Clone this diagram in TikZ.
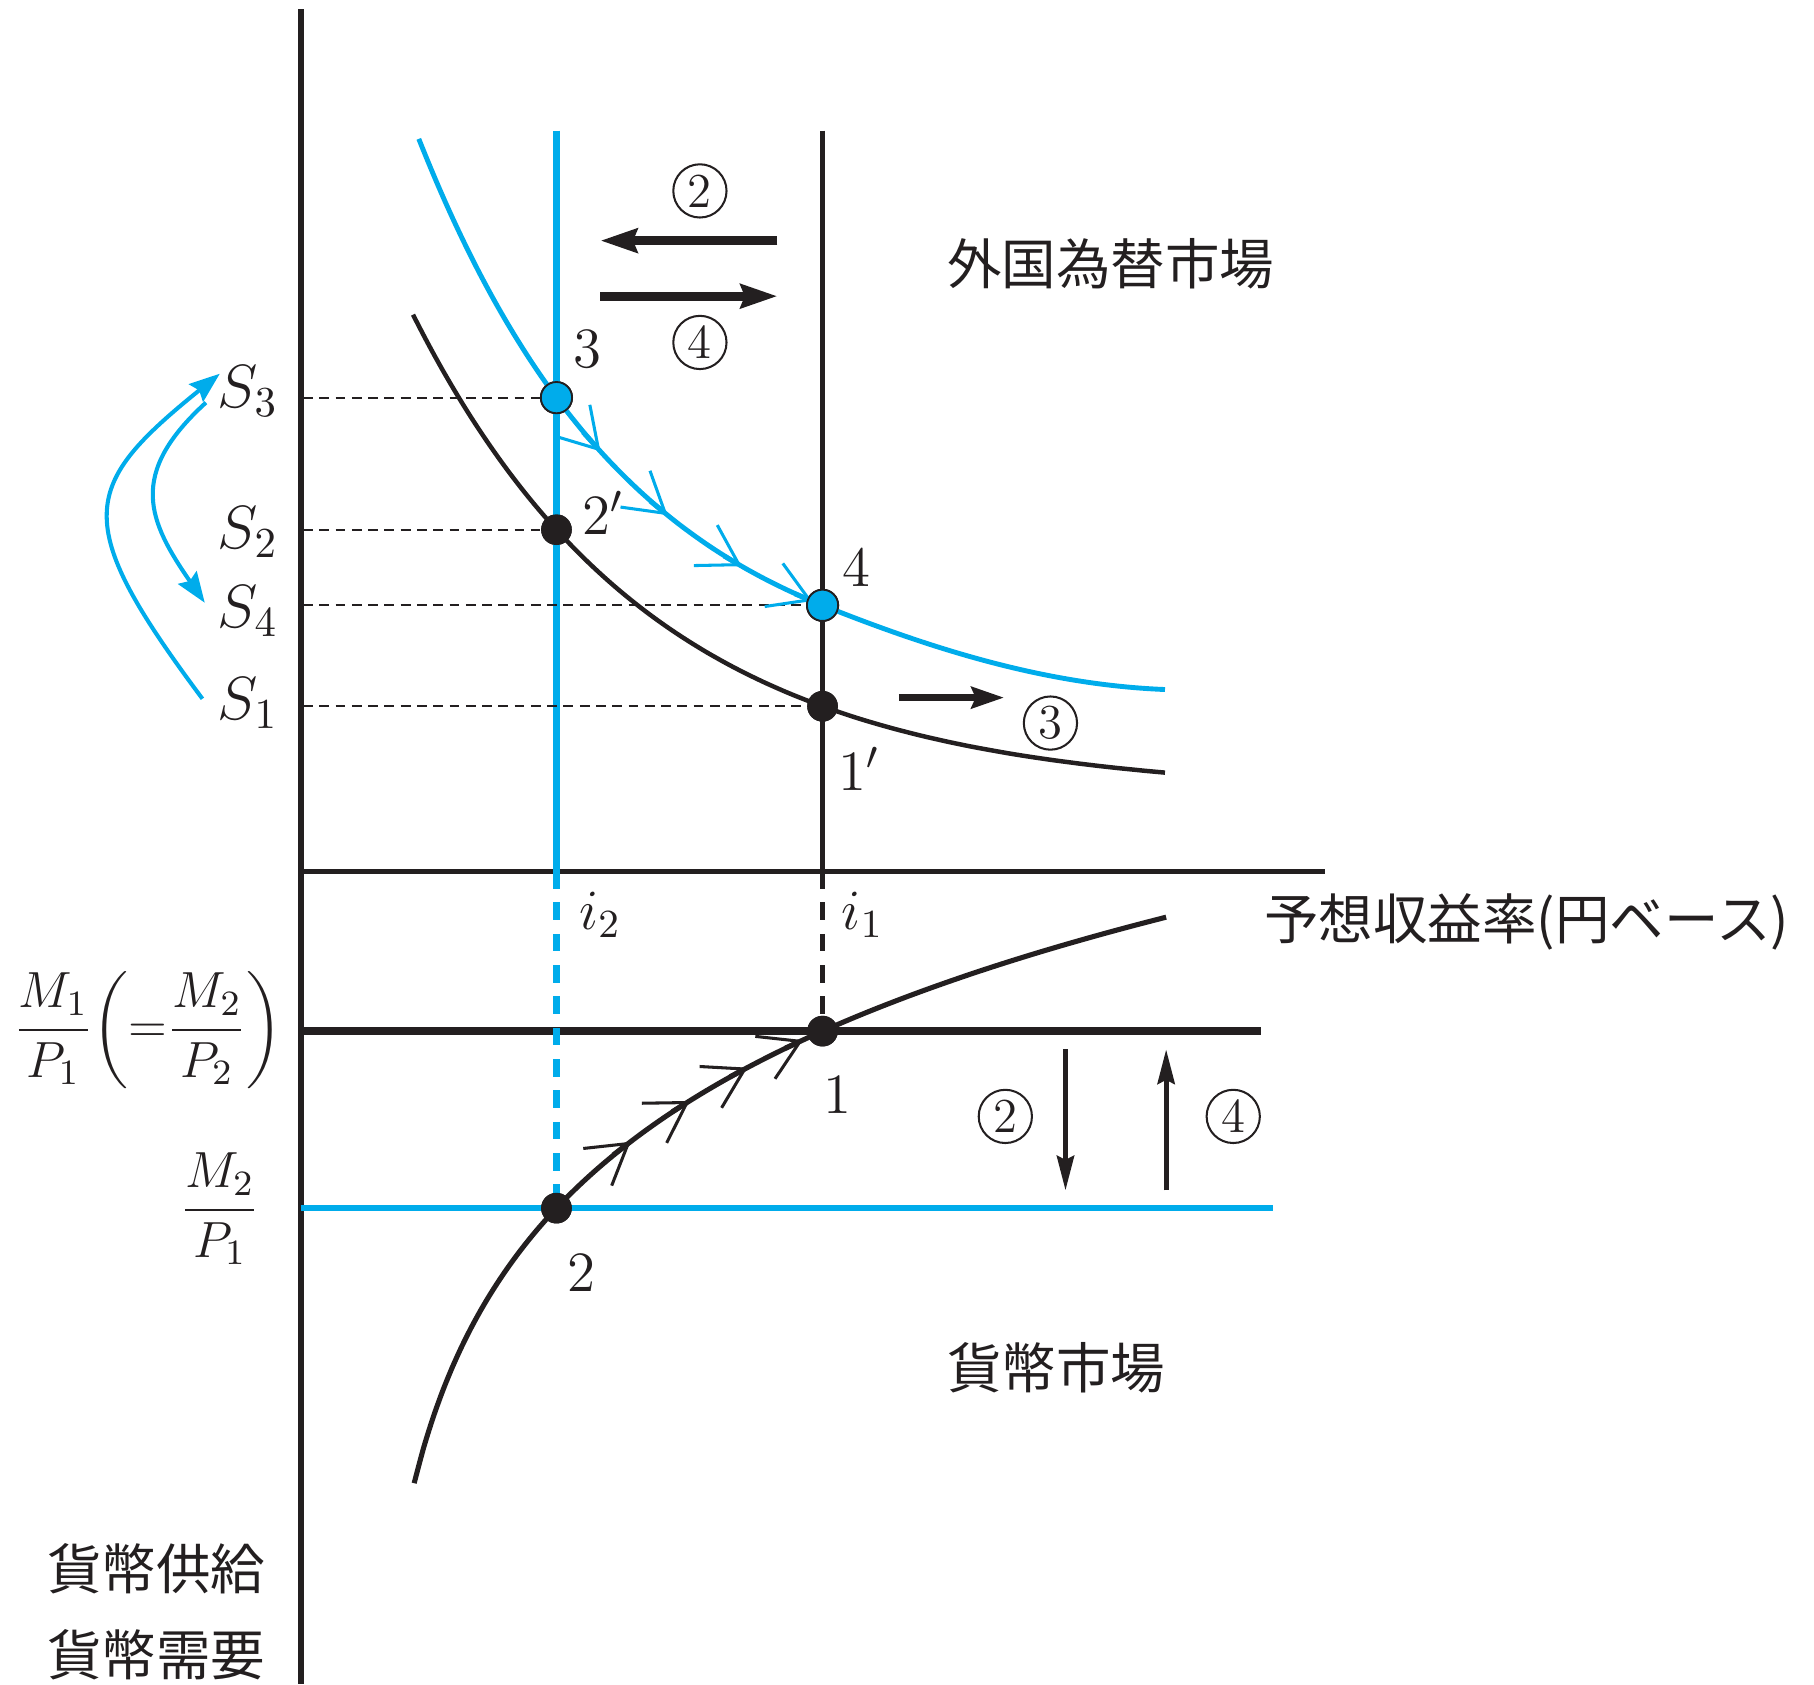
\RequirePackage{fix-cm}
\documentclass[tikz,border=0pt]{standalone}
\usepackage{amsmath}
\usepackage{fontspec}
\newfontfamily\jpfont{Noto Sans CJK JP}
\usetikzlibrary{arrows.meta}
\definecolor{cblue}{RGB}{0,172,235}
\definecolor{cblack}{RGB}{35,31,32}
\tikzset{
  chev/.tip={Straight Barb[length=9.5pt,width=11.5pt,line width=0.75pt]},
  axisline/.style={draw=cblack,line width=1.5pt},
  bcurve/.style={draw=cblack,line width=1.1pt},
  ucurve/.style={draw=cblue,line width=1.2pt},
  mcurve/.style={draw=cblack,line width=1.25pt},
  uvert/.style={draw=cblue,line width=1.8pt},
  kvert/.style={draw=cblack,line width=1.2pt},
  udash/.style={draw=cblue,line width=1.8pt,dash pattern=on 4.3pt off 3.4pt},
  kdash/.style={draw=cblack,line width=1.3pt,dash pattern=on 4.3pt off 3.4pt},
  thindash/.style={draw=cblack,line width=0.5pt,dash pattern=on 2.4pt off 1.6pt},
  bdot/.style={circle,fill=cblack,inner sep=0pt,minimum size=0.265cm},
  udot/.style={circle,fill=cblue,draw=cblack,line width=0.45pt,inner sep=0pt,minimum size=0.27cm},
  fat/.style={draw=cblack,line width=2.2pt,-{Stealth[length=9pt,width=5.8pt,inset=1pt]}},
  midarr/.style={draw=cblack,line width=1.9pt,-{Stealth[length=8pt,width=5.2pt,inset=1pt]}},
  vertarr/.style={draw=cblack,line width=1.3pt,-{Stealth[length=8.5pt,width=4.2pt,inset=1pt]}},
  bluearr/.style={draw=cblue,line width=1.0pt,-{Stealth[length=7.5pt,width=5.5pt,inset=1pt]}},
  slab/.style={inner sep=0pt,text=cblack,font=\fontsize{15}{17}\selectfont},
  nlab/.style={inner sep=0pt,text=cblack,font=\fontsize{14}{16}\selectfont},
  flab/.style={inner sep=0pt,text=cblack,font=\fontsize{12.5}{15}\selectfont},
  jlab/.style={inner sep=0pt,text=cblack,font=\jpfont\fontsize{13.4}{15}\selectfont},
  cnum/.style={circle,draw=cblack,line width=0.5pt,inner sep=0pt,minimum size=0.46cm,text=cblack,font=\fontsize{12}{14}\selectfont}
}
\begin{document}
\begin{tikzpicture}[x=0.01cm,y=-0.01cm,
  declare function={fb(\x)=686-414*exp(-0.0048*(\x-357));
                    fu(\x)=598.6-478.6*exp(-0.0053*(\x-362));
                    dfu(\x)=2.53658*exp(-0.0053*(\x-362));
                    fm(\x)=1944-176*ln(\x-315);
                    dfm(\x)=-176/(\x-315);}]
\path[use as bounding box] (0,0) rectangle (1568,1456);

% axes
\coordinate (ytop) at (260,8);
\coordinate (ybot) at (260,1456);
\coordinate (xl) at (260,753);
\coordinate (xr) at (1145,753);
\draw[axisline] (ytop) -- (ybot);
\draw[axisline,line width=1.3pt] (xl) -- (xr);

% money supply lines
\coordinate (m1l) at (260,{fm(711)});
\coordinate (m1r) at (1090,{fm(711)});
\coordinate (m2l) at (260,{fm(481)});
\coordinate (m2r) at (1100,{fm(481)});
\draw[draw=cblack,line width=1.8pt] (m1l) -- (m1r);
\draw[draw=cblue,line width=1.5pt] (m2l) -- (m2r);

% dots (defined early so lines can end at them)
\node[bdot] (p2p) at (481,{fb(481)}) {};
\node[bdot] (p1p) at (711,{fb(711)}) {};
\node[udot] (p3) at (481,{fu(481)}) {};
\node[udot] (p4) at (711,{fu(711)}) {};
\node[bdot] (p1) at (711,{fm(711)}) {};
\node[bdot] (p2) at (481,{fm(481)}) {};

% vertical lines
\coordinate (utop) at (481,113);
\coordinate (uax) at (481,753);
\coordinate (ktop) at (711,113);
\coordinate (kax) at (711,753);
\draw[uvert] (utop) -- (uax);
\draw[udash] (uax) -- (p2.center);
\draw[kvert] (ktop) -- (kax);
\draw[kdash] (kax) -- (p1.center);

% thin dashed level lines
\coordinate (s3) at (262,{fu(481)});
\coordinate (s2) at (262,{fb(481)});
\coordinate (s4) at (262,{fu(711)});
\coordinate (s1) at (262,{fb(711)});
\draw[thindash] (s3) -- (p3);
\draw[thindash] (s2) -- (p2p);
\draw[thindash] (s4) -- (p4);
\draw[thindash] (s1) -- (p1p);

% curves
\draw[bcurve] plot[domain=357:1007,samples=80,smooth] (\x,{fb(\x)});
\draw[ucurve] plot[domain=362:711,samples=60,smooth] (\x,{fu(\x)})
   .. controls (811,563.2) and (907,592) .. (1007,596);
\draw[mcurve] plot[domain=358:1008,samples=80,smooth] (\x,{fm(\x)});

% chevrons along the curves
\foreach \a in {519,577,641,702}
  \draw[draw=cblue,line width=1.2pt,-{chev}] ({\a-15},{fu(\a)-15*dfu(\a)}) -- (\a,{fu(\a)});
\foreach \a in {545,596,646,694}
  \draw[draw=cblack,line width=1.25pt,-{chev}] ({\a-15},{fm(\a)-15*dfm(\a)}) -- (\a,{fm(\a)});

% redraw dots on top
\node[bdot] at (p2p) {};
\node[bdot] at (p1p) {};
\node[udot] at (p3) {};
\node[udot] at (p4) {};
\node[bdot] at (p1) {};
\node[bdot] at (p2) {};

% S labels
\node[slab,anchor=base east] (S3) at (241,352) {$S_3$};
\node[slab,anchor=base east] (S2) at (241,474) {$S_2$};
\node[slab,anchor=base east] (S4) at (241,542) {$S_4$};
\node[slab,anchor=base east] (S1) at (241,622) {$S_1$};

% blue curved arrows
\coordinate (oa) at (175,604);
\coordinate (ob) at (190,323);
\coordinate (ia) at (178,348);
\coordinate (ib) at (177,521);
\draw[bluearr] (oa) .. controls (60,450) and (70,420) .. (ob);
\draw[bluearr] (ia) .. controls (110,410) and (128,450) .. (ib);

% point labels
\node[nlab] (n3) at (508,302) {3};
\node[nlab,anchor=base west] (n2p) at (503,462) {$2'$};
\node[nlab] (n4) at (740,490) {4};
\node[nlab,anchor=base west] (n1p) at (724,683) {$1'$};
\node[nlab] (n1) at (724,946) {1};
\node[nlab] (n2) at (503,1100) {2};
\node[nlab,anchor=base west] (i2) at (500,803) {$i_2$};
\node[nlab,anchor=base west] (i1) at (727,803) {$i_1$};

% circled numbers
\node[cnum] (c2a) at (605,165) {2};
\node[cnum] (c4a) at (605,296) {4};
\node[cnum] (c3) at (908,625) {3};
\node[cnum] (c2b) at (869,965) {2};
\node[cnum] (c4b) at (1066,965) {4};

% thick arrows
\coordinate (a2s) at (672,208);
\coordinate (a2e) at (519,208);
\coordinate (a4s) at (519,256);
\coordinate (a4e) at (672,256);
\draw[fat] (a2s) -- (a2e);
\draw[fat] (a4s) -- (a4e);
\coordinate (a3s) at (777,603);
\coordinate (a3e) at (868,603);
\draw[midarr] (a3s) -- (a3e);
\coordinate (d2s) at (921,907);
\coordinate (d2e) at (921,1029);
\coordinate (d4s) at (1008,1029);
\coordinate (d4e) at (1008,907);
\draw[vertarr] (d2s) -- (d2e);
\draw[vertarr] (d4s) -- (d4e);

% fractions
\node[flab] (f1) at (128,890) {$\dfrac{M_1}{P_1}\!\left({=}\dfrac{M_2}{P_2}\right)$};
\node[flab] (f2) at (190,1045) {$\dfrac{M_2}{P_1}$};

% Japanese labels
\node[jlab,anchor=west] (fx) at (818,228) {外国為替市場};
\node[jlab,anchor=west] (er) at (1092,797) {予想収益率(円ベース)};
\node[jlab,anchor=west] (mm) at (818,1182) {貨幣市場};
\node[jlab,anchor=west] (ms) at (40,1356) {貨幣供給};
\node[jlab,anchor=west] (md) at (40,1430) {貨幣需要};
\end{tikzpicture}
\end{document}
